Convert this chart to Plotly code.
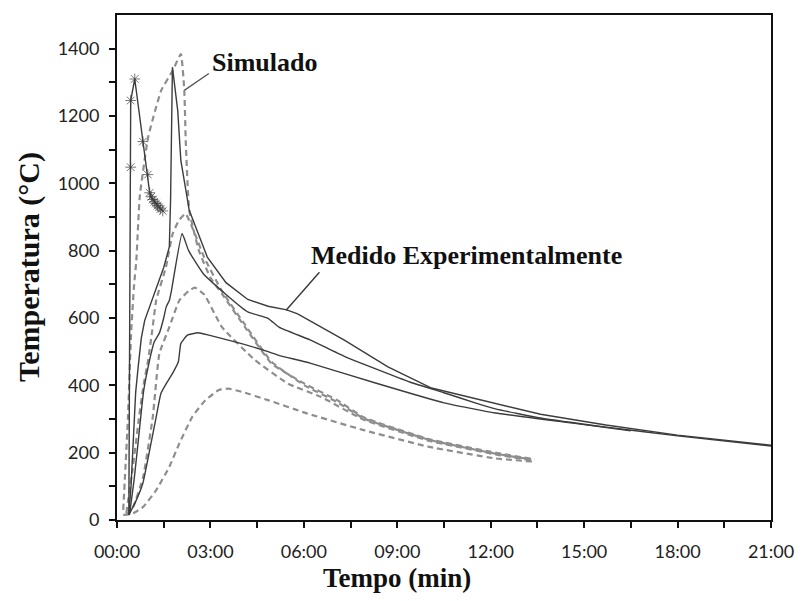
import plotly.graph_objects as go

# ---- tick labels -------------------------------------------------------
x_tick_vals = [0, 1.5, 3, 4.5, 6, 7.5, 9, 10.5, 12, 13.5, 15, 16.5, 18, 19.5, 21]
x_tick_text = ["00:00", "", "03:00", "", "06:00", "", "09:00", "", "12:00", "",
               "15:00", "", "18:00", "", "21:00"]
y_tick_vals = [0, 100, 200, 300, 400, 500, 600, 700, 800, 900, 1000, 1100, 1200, 1300, 1400]
y_tick_text = ["0", "", "200", "", "400", "", "600", "", "800", "", "1000", "", "1200", "", "1400"]

# ---- measured curves (time in minutes, temperature in °C) -------------
ast_t = [0.38, 0.44, 0.44, 0.57, 0.83, 0.99, 1.05, 1.10, 1.15, 1.20, 1.25, 1.30, 1.35, 1.40, 1.47]
ast_T = [15, 1048, 1246, 1310, 1124, 1026, 972, 960, 952, 945, 940, 934, 929, 924, 918]

medA_t = [0.38, 0.45, 0.52, 0.60, 0.68, 0.78, 0.89, 1.05, 1.20, 1.36, 1.50, 1.68, 1.72, 1.78,
          1.95, 2.05, 2.32, 2.90, 3.50, 4.20, 4.85, 5.45, 5.80, 7.30, 8.70, 10.1, 11.5,
          13.6, 15.7, 18.0, 21.0]
medA_T = [15, 100, 230, 380, 455, 540, 593, 633, 670, 712, 750, 811, 950, 1345,
          1216, 1068, 920, 781, 705, 655, 635, 624, 612, 534, 455, 392, 360,
          314, 282, 252, 222]

medB_t = [0.40, 0.55, 0.70, 0.85, 1.00, 1.20, 1.36, 1.50, 1.58, 1.68, 1.75, 2.09,
          2.30, 2.76, 3.50, 4.20, 4.85, 5.20, 6.20, 7.30, 9.40, 10.5, 11.5, 12.15,
          13.6, 15.7, 18.0, 21.0]
medB_T = [15, 120, 250, 380, 455, 530, 555, 600, 633, 652, 682, 851,
          800, 733, 670, 618, 599, 573, 535, 486, 410, 378, 348, 330,
          303, 276, 250, 220]

medC_t = [0.41, 0.62, 0.83, 1.05, 1.26, 1.41, 1.58, 1.78, 1.97, 2.05, 2.26, 2.60, 2.95,
          4.00, 4.85, 5.20, 6.20, 8.30, 10.5, 12.15, 14.7, 16.5]
medC_T = [20, 59, 109, 208, 307, 376, 405, 435, 470, 524, 549, 556, 549,
          524, 500, 489, 466, 407, 348, 318, 287, 265]

# ---- simulated curves ---------------------------------------------------
simA_t = [0.20, 0.35, 0.45, 0.55, 0.62, 0.73, 1.00, 1.42, 1.79, 2.05, 2.16, 2.21, 2.32,
          2.63, 3.00, 3.37, 4.11, 4.96, 6.02, 7.07, 7.92, 10.03, 12.15, 13.42]
simA_T = [30, 300, 550, 700, 770, 960, 1137, 1276, 1335, 1384, 1276, 1118, 920,
          800, 720, 672, 573, 465, 405, 356, 305, 240, 200, 180]

simB_t = [0.30, 0.50, 0.70, 0.85, 1.00, 1.12, 1.26, 1.57, 1.79, 1.99, 2.20, 2.50, 2.80,
          3.37, 4.11, 4.96, 6.02, 7.07, 7.92, 10.03, 12.15, 13.30]
simB_T = [20, 150, 300, 400, 475, 555, 653, 751, 851, 890, 910, 850, 780,
          680, 580, 470, 400, 350, 302, 238, 197, 180]

simC_t = [0.30, 0.52, 0.84, 1.15, 1.36, 1.68, 2.00, 2.32, 2.50, 2.80, 3.37, 4.43, 5.49,
          6.54, 7.92, 10.03, 12.15, 13.30]
simC_T = [15, 39, 128, 307, 494, 573, 652, 682, 690, 670, 573, 475, 405,
          366, 298, 235, 195, 177]

simD_t = [0.20, 0.52, 0.84, 1.26, 1.68, 2.00, 2.42, 2.84, 3.27, 3.58, 4.00, 4.85, 6.12,
          7.92, 10.03, 12.15, 13.42]
simD_T = [15, 20, 39, 89, 158, 227, 307, 356, 386, 390, 381, 356, 316,
          267, 217, 183, 173]

SOLID = "#3c3c3c"
DASHED = "#8e8e8e"
SERIF = "Liberation Serif, Times New Roman, serif"
TICKFONT = dict(family="Lato, Open Sans, sans-serif", size=18, color="#222222")

fig = go.Figure()

# simulated curves: grey dashed
for t, T in [(simA_t, simA_T), (simB_t, simB_T), (simC_t, simC_T), (simD_t, simD_T)]:
    fig.add_trace(go.Scatter(x=t, y=T, mode="lines",
                             line=dict(color=DASHED, width=2.2, dash="6px,4px",
                                       shape="spline", smoothing=0.4),
                             showlegend=False, hoverinfo="skip"))

# measured curves: dark solid
fig.add_trace(go.Scatter(x=medA_t, y=medA_T, mode="lines",
                         line=dict(color=SOLID, width=1.4),
                         showlegend=False, hoverinfo="skip"))
for t, T in [(medB_t, medB_T), (medC_t, medC_T)]:
    fig.add_trace(go.Scatter(x=t, y=T, mode="lines",
                             line=dict(color=SOLID, width=1.4, shape="spline", smoothing=0.4),
                             showlegend=False, hoverinfo="skip"))

# curve with asterisk markers (no marker on the starting point)
fig.add_trace(go.Scatter(x=ast_t, y=ast_T, mode="lines+markers",
                         line=dict(color=SOLID, width=1.4),
                         marker=dict(symbol="asterisk-open",
                                     size=[0] + [9] * (len(ast_t) - 1),
                                     color=SOLID, line=dict(color=SOLID, width=1)),
                         showlegend=False, hoverinfo="skip"))

# pointer lines for the labels
fig.add_shape(type="line", xref="x", yref="y", x0=2.16, y0=1276, x1=2.95, y1=1326,
              line=dict(color="#555555", width=1.3))
fig.add_shape(type="line", xref="x", yref="y", x0=5.43, y0=623, x1=6.50, y1=736,
              line=dict(color="#333333", width=1.3))

fig.add_annotation(x=3.0, y=1359, xref="x", yref="y", text="<b>Simulado</b>",
                   showarrow=False, xanchor="left", yanchor="middle",
                   font=dict(family=SERIF, size=26, color="#111111"))
fig.add_annotation(x=6.15, y=786, xref="x", yref="y", text="<b>Medido Experimentalmente</b>",
                   showarrow=False, xanchor="left", yanchor="middle",
                   font=dict(family=SERIF, size=26, color="#111111"))

# axis titles (placed in paper coordinates relative to the plot box)
fig.add_annotation(x=(400 - 117) / (779 - 117), y=-(578 - 520) / (520 - 15),
                   xref="paper", yref="paper", text="<b>Tempo (min)</b>",
                   showarrow=False, xanchor="center", yanchor="middle",
                   font=dict(family=SERIF, size=27, color="#111111"))
fig.add_annotation(x=-(117 - 28) / (779 - 117), y=(520 - 267) / (520 - 15),
                   xref="paper", yref="paper", text="<b>Temperatura (°C)</b>",
                   showarrow=False, textangle=-90, xanchor="center", yanchor="middle",
                   font=dict(family=SERIF, size=30, color="#111111"))

fig.update_layout(
    width=806, height=601,
    margin=dict(l=117, r=27, t=15, b=81),
    paper_bgcolor="white", plot_bgcolor="white",
    showlegend=False,
    xaxis=dict(range=[0, 21], tickvals=x_tick_vals, ticktext=x_tick_text,
               showgrid=False, zeroline=False, showline=True, linecolor="#111111",
               linewidth=2, mirror=True, ticks="outside", ticklen=6, tickwidth=1.5,
               tickcolor="#111111", ticklabelstandoff=8, tickfont=TICKFONT),
    yaxis=dict(range=[0, 1500], tickvals=y_tick_vals, ticktext=y_tick_text,
               showgrid=False, zeroline=False, showline=True, linecolor="#111111",
               linewidth=2, mirror=True, ticks="outside", ticklen=6, tickwidth=1.5,
               tickcolor="#111111", ticklabelstandoff=6, tickfont=TICKFONT),
)

fig.write_html("out.html")
